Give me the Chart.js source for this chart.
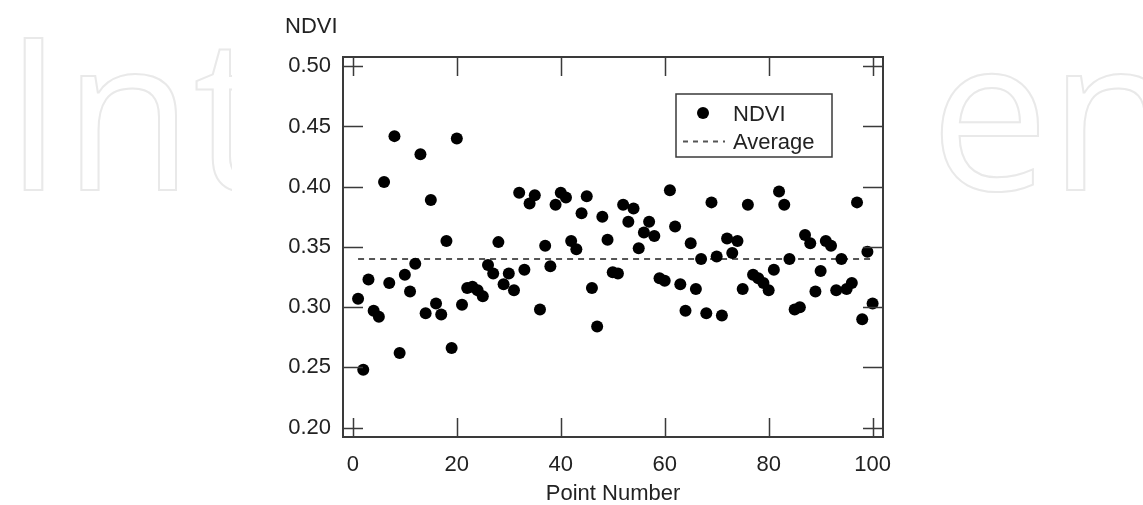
<!DOCTYPE html>
<html>
<head>
<meta charset="utf-8">
<script src="https://cdn.jsdelivr.net/npm/chart.js@4"></script>
<style>
  html, body { margin: 0; padding: 0; background: #fff; }
  #wrap { width: 1143px; height: 505px; position: relative; }
</style>
</head>
<body>
<div id="wrap"><canvas id="ndviChart" width="1143" height="505"></canvas></div>
<script>
// NDVI value at each sample point
const pointNumbers = [];
for (let i = 1; i <= 100; i++) pointNumbers.push(i);

const ndviValues = [
    0.307, 0.248, 0.323, 0.297, 0.292, 0.404, 0.320, 0.442, 0.262, 0.327,
    0.313, 0.336, 0.427, 0.295, 0.389, 0.303, 0.294, 0.355, 0.266, 0.440,
    0.302, 0.316, 0.317, 0.314, 0.309, 0.335, 0.328, 0.354, 0.319, 0.328,
    0.314, 0.395, 0.331, 0.386, 0.393, 0.298, 0.351, 0.334, 0.385, 0.395,
    0.391, 0.355, 0.348, 0.378, 0.392, 0.316, 0.284, 0.375, 0.356, 0.329,
    0.328, 0.385, 0.371, 0.382, 0.349, 0.362, 0.371, 0.359, 0.324, 0.322,
    0.397, 0.367, 0.319, 0.297, 0.353, 0.315, 0.340, 0.295, 0.387, 0.342,
    0.293, 0.357, 0.345, 0.355, 0.315, 0.385, 0.327, 0.324, 0.320, 0.314,
    0.331, 0.396, 0.385, 0.340, 0.298, 0.300, 0.360, 0.353, 0.313, 0.330,
    0.355, 0.351, 0.314, 0.340, 0.315, 0.320, 0.387, 0.290, 0.346, 0.303
];

const averageValue = 0.34;
const averageRange = [1, 100];

const xTicks = [0, 20, 40, 60, 80, 100];
const yTicks = [0.20, 0.25, 0.30, 0.35, 0.40, 0.45, 0.50];

const FONT = '"Liberation Sans", Arial, sans-serif';
const TEXT = '#222';
const FRAME = '#3a3a3a';

// watermark, frame, inner ticks, y title and legend
const decorPlugin = {
    id: 'decor',
    beforeDraw(chart) {
        const c = chart.ctx;
        c.save();
        c.fillStyle = '#fff';
        c.fillRect(0, 0, chart.width, chart.height);
        // watermark only shows left and right of the figure
        c.beginPath();
        c.rect(0, 0, 232, chart.height);
        c.rect(928, 0, chart.width - 928, chart.height);
        c.clip();
        c.strokeStyle = '#e9e9e9';
        c.lineWidth = 2;
        c.font = '500 212px "Open Sans", "Liberation Sans", sans-serif';
        c.textBaseline = 'alphabetic';
        c.strokeText('Int', 4, 190);
        c.strokeText('en', 930, 190);
        c.restore();
    },
    afterDraw(chart) {
        const c = chart.ctx;
        const a = chart.chartArea;
        const xs = chart.scales.x;
        const ys = chart.scales.y;
        c.save();

        // inner ticks
        c.strokeStyle = FRAME;
        c.lineWidth = 1.5;
        c.beginPath();
        xTicks.forEach(v => {
            const px = Math.round(xs.getPixelForValue(v)) + 0.5;
            c.moveTo(px, a.top); c.lineTo(px, a.top + 19);
            c.moveTo(px, a.bottom); c.lineTo(px, a.bottom - 19);
        });
        yTicks.forEach(v => {
            const py = Math.round(ys.getPixelForValue(v)) + 0.5;
            c.moveTo(a.left, py); c.lineTo(a.left + 20, py);
            c.moveTo(a.right, py); c.lineTo(a.right - 20, py);
        });
        c.stroke();

        // frame
        c.lineWidth = 2;
        c.strokeRect(a.left, a.top, a.right - a.left, a.bottom - a.top);

        // y axis title, horizontal above the axis
        c.fillStyle = TEXT;
        c.font = '22px ' + FONT;
        c.textBaseline = 'alphabetic';
        c.textAlign = 'left';
        c.fillText('NDVI', 285, 33);

        // legend
        const lx = 676, ly = 94, lw = 156, lh = 63;
        c.fillStyle = '#fff';
        c.fillRect(lx, ly, lw, lh);
        c.strokeStyle = FRAME;
        c.lineWidth = 1.5;
        c.strokeRect(lx, ly, lw, lh);

        const ds = chart.data.datasets;
        c.fillStyle = '#000';
        c.beginPath();
        c.arc(703, 113, 6, 0, Math.PI * 2);
        c.fill();

        c.strokeStyle = '#555';
        c.lineWidth = 2;
        c.setLineDash([5, 5]);
        c.beginPath();
        c.moveTo(683, 141.5); c.lineTo(725, 141.5);
        c.stroke();
        c.setLineDash([]);

        c.fillStyle = TEXT;
        c.font = '22px ' + FONT;
        c.fillText(ds[0].label, 733, 121);
        c.fillText(ds[1].label, 733, 149);
        c.restore();
    }
};

const ndviPoints = pointNumbers.map((x, i) => ({ x: x, y: ndviValues[i] }));
const averagePoints = averageRange.map(x => ({ x: x, y: averageValue }));

const ctx = document.getElementById('ndviChart');
new Chart(ctx, {
    type: 'scatter',
    data: {
        datasets: [
            {
                label: 'NDVI',
                data: ndviPoints,
                backgroundColor: '#000',
                borderColor: '#000',
                pointRadius: 6,
                pointBorderWidth: 0
            },
            {
                label: 'Average',
                data: averagePoints,
                showLine: true,
                borderColor: '#555',
                borderWidth: 2,
                borderDash: [6, 5],
                pointRadius: 0,
                order: 1
            }
        ]
    },
    options: {
        responsive: false,
        animation: false,
        devicePixelRatio: 1,
        layout: { padding: { left: 0, top: 57, right: 260, bottom: 0 } },
        plugins: {
            legend: { display: false },
            tooltip: { enabled: false }
        },
        scales: {
            x: {
                type: 'linear',
                min: -1.9,
                max: 102,
                afterBuildTicks: s => { s.ticks = xTicks.map(v => ({ value: v })); },
                afterFit: s => { s.height = 68; },
                grid: { display: false, drawTicks: false },
                border: { display: false },
                ticks: {
                    padding: 15,
                    color: TEXT,
                    font: { family: FONT, size: 22 },
                    maxRotation: 0
                },
                title: {
                    display: true,
                    text: 'Point Number',
                    color: TEXT,
                    font: { family: FONT, size: 22, lineHeight: 1 },
                    padding: { top: 0, bottom: 0 }
                }
            },
            y: {
                type: 'linear',
                min: 0.1922,
                max: 0.5077,
                afterBuildTicks: s => { s.ticks = yTicks.map(v => ({ value: v })); },
                afterFit: s => { s.width = 343; },
                grid: { display: false, drawTicks: false },
                border: { display: false },
                ticks: {
                    padding: 12,
                    color: TEXT,
                    font: { family: FONT, size: 22 },
                    callback: v => v.toFixed(2)
                }
            }
        }
    },
    plugins: [decorPlugin]
});
</script>
</body>
</html>
